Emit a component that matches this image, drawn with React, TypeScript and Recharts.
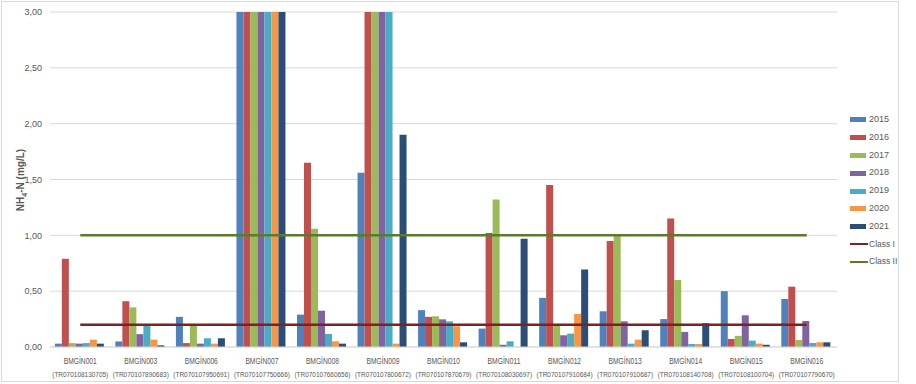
import React from "react";
import { ComposedChart, Bar, Line, XAxis, YAxis, CartesianGrid } from "recharts";

const stations = ["BMGİN001", "BMGİN003", "BMGİN006", "BMGİN007", "BMGİN008", "BMGİN009", "BMGİN010", "BMGİN011", "BMGİN012", "BMGİN013", "BMGİN014", "BMGİN015", "BMGİN016"];
const codes = ["(TR070108130705)", "(TR070107890683)", "(TR070107950691)", "(TR070107750666)", "(TR070107660656)", "(TR070107800672)", "(TR070107870679)", "(TR070108030697)", "(TR070107910684)", "(TR070107910687)", "(TR070108140708)", "(TR070108100704)", "(TR070107790670)"];

const y2015 = [0.03, 0.05, 0.27, 3.0, 0.29, 1.56, 0.33, 0.165, 0.44, 0.32, 0.25, 0.5, 0.43];
const y2016 = [0.79, 0.41, 0.035, 3.0, 1.65, 3.0, 0.27, 1.02, 1.45, 0.95, 1.15, 0.072, 0.54];
const y2017 = [0.035, 0.355, 0.195, 3.0, 1.06, 3.0, 0.275, 1.32, 0.19, 1.0, 0.6, 0.1, 0.063];
const y2018 = [0.03, 0.115, 0.03, 3.0, 0.325, 3.0, 0.248, 0.02, 0.105, 0.23, 0.135, 0.284, 0.233];
const y2019 = [0.035, 0.195, 0.078, 3.0, 0.117, 3.0, 0.23, 0.051, 0.12, 0.03, 0.027, 0.057, 0.036];
const y2020 = [0.066, 0.066, 0.03, 3.0, 0.051, 0.03, 0.186, 0, 0.296, 0.066, 0.027, 0.03, 0.042];
const y2021 = [0.03, 0.015, 0.078, 3.0, 0.03, 1.9, 0.042, 0.97, 0.694, 0.15, 0.213, 0.02, 0.042];
const classI = [0.2, 0.2, 0.2, 0.2, 0.2, 0.2, 0.2, 0.2, 0.2, 0.2, 0.2, 0.2, 0.2];
const classII = [1.0, 1.0, 1.0, 1.0, 1.0, 1.0, 1.0, 1.0, 1.0, 1.0, 1.0, 1.0, 1.0];
const yTicks = [0, 0.5, 1.0, 1.5, 2.0, 2.5, 3.0];

const years = [
  { key: "2015", values: y2015, color: "#4F81BD" },
  { key: "2016", values: y2016, color: "#C0504D" },
  { key: "2017", values: y2017, color: "#9BBB59" },
  { key: "2018", values: y2018, color: "#8064A2" },
  { key: "2019", values: y2019, color: "#4BACC6" },
  { key: "2020", values: y2020, color: "#F79646" },
  { key: "2021", values: y2021, color: "#2C4D75" },
];
const classes = [
  { key: "Class I", values: classI, color: "#7B2222" },
  { key: "Class II", values: classII, color: "#5B7A2C" },
];

const data = stations.map((s, i) => {
  const row: any = { station: s, code: codes[i] };
  years.forEach((y) => (row[y.key] = y.values[i]));
  classes.forEach((c) => (row[c.key] = c.values[i]));
  return row;
});

const FONT = "'Liberation Sans Narrow', 'Liberation Sans', Arial, sans-serif";
const TEXT = "#595959";

const XTick = (props: any) => {
  const { x, y, payload, index } = props;
  return (
    <g>
      <text x={x} y={y + 9} textAnchor="middle" fontSize={9} fill={TEXT} fontFamily={FONT} textLength={33} lengthAdjust="spacingAndGlyphs">
        {payload.value}
      </text>
      <text x={x} y={y + 22} textAnchor="middle" fontSize={6.9} fill={TEXT} fontFamily={FONT} textLength={56} lengthAdjust="spacingAndGlyphs">
        {codes[index]}
      </text>
    </g>
  );
};

const YLabel = () => (
  <text x={0} y={0} transform="translate(24,180) rotate(-90)" textAnchor="middle" fontSize={10} fontWeight="bold" fill={TEXT} fontFamily="'Liberation Sans', Arial, sans-serif">
    <tspan>NH</tspan><tspan fontSize={7} dy={3}>4</tspan><tspan dy={-3}>-N (mg/L)</tspan>
  </text>
);

const LegendBox = () => (
  <div style={{ position: "absolute", left: 850, top: 111, width: 60, fontFamily: FONT, fontSize: 9, color: TEXT, lineHeight: "17.8px" }}>
    {years.map((y) => (
      <div key={y.key} style={{ display: "flex", alignItems: "center", height: 17.8 }}>
        <div style={{ width: 16, height: 5, background: y.color, marginRight: 3, flex: "none" }} />
        <span style={{ whiteSpace: "nowrap" }}>{y.key}</span>
      </div>
    ))}
    {classes.map((c) => (
      <div key={c.key} style={{ display: "flex", alignItems: "center", height: 17.8 }}>
        <div style={{ width: 18, height: 2, background: c.color, marginRight: 1, flex: "none" }} />
        <span style={{ whiteSpace: "nowrap", fontSize: 8.5 }}>{c.key}</span>
      </div>
    ))}
  </div>
);

export default function App() {
  return (
    <div style={{ position: "fixed", left: 0, top: 0, width: 916, height: 384, background: "#fff" }}>
      <div style={{ position: "absolute", left: 1, top: 1, width: 898, height: 381, border: "1px solid #D9D9D9", boxSizing: "border-box" }} />
      <div style={{ position: "absolute", left: 0, top: 0 }}>
        <ComposedChart
          width={916}
          height={384}
          data={data}
          margin={{ top: 12, right: 79, bottom: 0, left: 0 }}
          barCategoryGap="8%"
          barGap={0}
        >
          <CartesianGrid vertical={false} stroke="#D9D9D9" />
          <XAxis
            dataKey="station"
            height={37}
            axisLine={{ stroke: "#D9D9D9" }}
            tickLine={false}
            tick={<XTick />}
            interval={0}
          />
          <YAxis
            width={50}
            domain={[0, 3]}
            ticks={yTicks}
            allowDataOverflow
            axisLine={false}
            tickLine={false}
            tickSize={6}
            tickMargin={2}
            tick={{ fontSize: 9, fill: TEXT, fontFamily: FONT }}
            tickFormatter={(v: number) => v.toFixed(2).replace(".", ",")}
            label={<YLabel />}
          />
          {years.map((y) => (
            <Bar key={y.key} dataKey={y.key} fill={y.color} isAnimationActive={false} />
          ))}
          {classes.map((c) => (
            <Line key={c.key} dataKey={c.key} stroke={c.color} strokeWidth={2.5} dot={false} activeDot={false} isAnimationActive={false} type="linear" />
          ))}
        </ComposedChart>
      </div>
      <LegendBox />
    </div>
  );
}
